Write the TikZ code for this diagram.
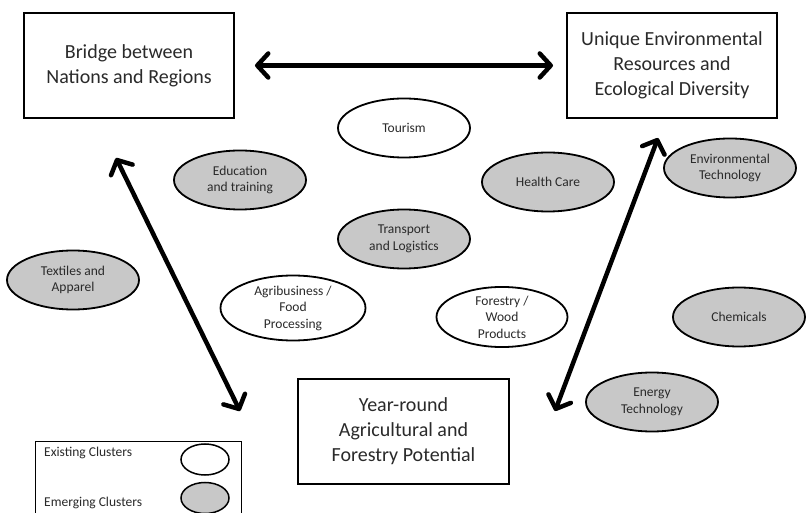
\documentclass[tikz,border=0pt]{standalone}
\usepackage{fontspec}
\setmainfont{Carlito}
\usetikzlibrary{shapes.geometric,arrows.meta}
\definecolor{txt}{HTML}{2A2A2A}
\definecolor{emerg}{HTML}{C8C8C8}
\tikzset{
  bigbox/.style={draw=black,line width=2pt,minimum width=210pt,minimum height=105pt,
    align=center,text=txt,font=\fontsize{20}{25}\selectfont,inner sep=0pt},
  cluster/.style={ellipse,draw=black,line width=1.8pt,minimum width=132pt,minimum height=59pt,
    align=center,text=txt,font=\fontsize{13.5}{16.5}\selectfont,inner sep=0pt},
  existing/.style={cluster,fill=white},
  emerging/.style={cluster,fill=emerg},
  bigarrow/.style={line width=4.5pt,{Straight Barb[length=11pt,width=24pt,round]}-{Straight Barb[length=11pt,width=24pt,round]}},
  legtext/.style={anchor=west,text=txt,font=\fontsize{13.5}{15}\selectfont,inner sep=0pt},
}
\begin{document}
\begin{tikzpicture}[x=1pt,y=-1pt]
\clip (0,0) rectangle (807,513);
\fill[white] (0,0) rectangle (807,513);
% main boxes
\node[bigbox] (bridge) at (129,65.5) {Bridge between\\Nations and Regions};
\node[bigbox] (unique) at (672,65.5) {Unique Environmental\\Resources and\\Ecological Diversity};
\node[bigbox,minimum width=211pt] (year) at (403.5,431.5) {Year-round\\Agricultural and\\Forestry Potential};
% clusters
\node[existing] (tourism) at (404,128) {Tourism};
\node[emerging] (edu) at (240,180) {Education\\and training};
\node[emerging] (transport) at (404,239) {Transport\\and Logistics};
\node[emerging] (health) at (548,182) {Health Care};
\node[emerging] (envtech) at (730,168) {Environmental\\Technology};
\node[emerging] (textiles) at (73,280) {Textiles and\\Apparel};
\node[existing,minimum width=145pt,minimum height=65pt] (agri) at (293,308) {Agribusiness /\\Food\\Processing};
\node[existing,minimum width=131pt,minimum height=60pt] (forestry) at (502,317) {Forestry /\\Wood\\Products};
\node[emerging] (chem) at (739,317) {Chemicals};
\node[emerging] (energy) at (652,402) {Energy\\Technology};
% arrow end points
\coordinate (hL) at (255,65.5);
\coordinate (hR) at (553,65.5);
\coordinate (lT) at (116,158);
\coordinate (lB) at (240,411);
\coordinate (rT) at (658,138);
\coordinate (rB) at (555,411);
\draw[bigarrow] (hL) -- (hR);
\draw[bigarrow] (lT) -- (lB);
\draw[bigarrow] (rT) -- (rB);
% legend
\node[draw=black,line width=1pt,minimum width=206pt,minimum height=100pt,anchor=north west,inner sep=0pt] (legend) at (35,441) {};
\node[legtext] (lexist) at (44,453) {Existing Clusters};
\node[legtext] (lemerg) at (44,503) {Emerging Clusters};
\node[ellipse,draw=black,line width=1.5pt,fill=white,minimum width=48pt,minimum height=31pt,inner sep=0pt] (legex) at (205,459.5) {};
\node[ellipse,draw=black,line width=1.5pt,fill=emerg,minimum width=48pt,minimum height=31pt,inner sep=0pt] (legem) at (205,498) {};
\end{tikzpicture}
\end{document}
